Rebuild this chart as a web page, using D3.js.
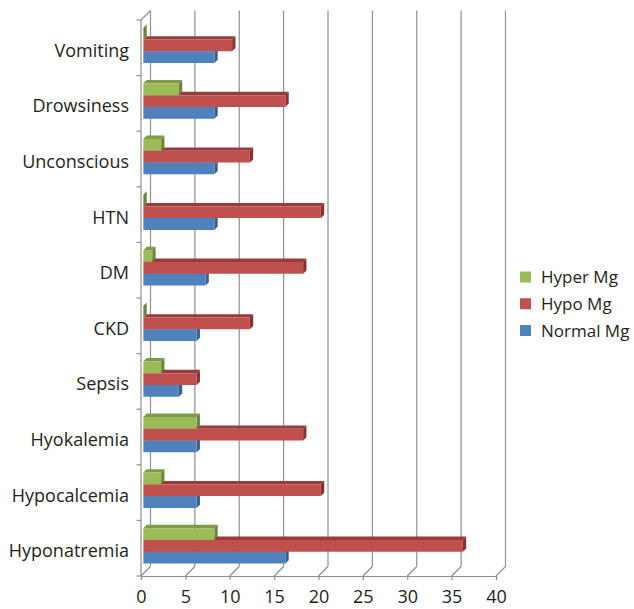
<!DOCTYPE html>
<html>
<head>
<meta charset="utf-8">
<script src="https://cdn.jsdelivr.net/npm/d3@7"></script>
<style>
  html, body { margin: 0; padding: 0; background: #fff; }
  svg { display: block; }
  text { font-family: "Open Sans", "Noto Sans", sans-serif; fill: #231f20; }
</style>
</head>
<body>
<svg id="chart" width="634" height="609"></svg>
<script>
// Complications by magnesium status
const categories = ["Vomiting", "Drowsiness", "Unconscious", "HTN", "DM", "CKD",
                    "Sepsis", "Hyokalemia", "Hypocalcemia", "Hyponatremia"];
const seriesNames = ["Hyper Mg", "Hypo Mg", "Normal Mg"];
const hyperMg  = [0, 4, 2, 0, 1, 0, 2, 6, 2, 8];
const hypoMg   = [10, 16, 12, 20, 18, 12, 6, 18, 20, 36];
const normalMg = [8, 8, 8, 8, 7, 6, 4, 6, 6, 16];
const xTicks = [0, 5, 10, 15, 20, 25, 30, 35, 40];

const seriesValues = [hyperMg, hypoMg, normalMg];
const palette = {
  "Hyper Mg":  { front: "#9bbb59", top: "#7e9b46", side: "#6a863a" },
  "Hypo Mg":   { front: "#c0504d", top: "#973c3a", side: "#88322f" },
  "Normal Mg": { front: "#4f81bd", top: "#3e6a9e", side: "#385f8f" }
};

const svg = d3.select("#chart");
const W = 634, H = 609;
svg.append("rect").attr("width", W).attr("height", H).attr("fill", "#fff");

// front plane geometry
const x = d3.scaleLinear().domain([0, 40]).range([141, 496]);
const y = d3.scaleBand().domain(categories).range([20, 576]);
const ys = d3.scaleBand().domain(seriesNames).range([0, y.bandwidth()])
  .paddingInner(0).paddingOuter(0.856);

// oblique depth projection (z = 0 front, z = 1 back wall)
const DEPTH = 9.5;
const proj = (px, py, z) => [px + z * DEPTH, py - z * DEPTH];
const poly = pts => "M" + pts.map(p => p.join(",")).join("L") + "Z";

const gridColor = "#8f8f8f";
const grid = svg.append("g").attr("stroke", gridColor).attr("stroke-width", 1.2).attr("fill", "none");

// back wall vertical gridlines and floor diagonals
xTicks.forEach(t => {
  const topB = proj(x(t), y.range()[0], 1);
  const botB = proj(x(t), y.range()[1], 1);
  grid.append("line").attr("x1", topB[0]).attr("y1", topB[1]).attr("x2", botB[0]).attr("y2", botB[1]);
  grid.append("line").attr("x1", x(t)).attr("y1", y.range()[1]).attr("x2", botB[0]).attr("y2", botB[1]);
});

// left wall: front edge and top diagonal
const leftTopB = proj(x(0), y.range()[0], 1);
grid.append("line").attr("x1", x(0)).attr("y1", y.range()[0]).attr("x2", x(0)).attr("y2", y.range()[1]);
grid.append("line").attr("x1", x(0)).attr("y1", y.range()[0]).attr("x2", leftTopB[0]).attr("y2", leftTopB[1]);

// category boundary ticks on the left axis
const boundaries = categories.map(c => y(c)).concat([y.range()[1]]);
boundaries.forEach(b => {
  grid.append("line").attr("x1", x(0) - 4.5).attr("y1", b).attr("x2", x(0)).attr("y2", b);
});

// bottom value axis
const xAxis = d3.axisBottom(x).tickValues(xTicks).tickSize(4).tickPadding(8).tickFormat(d3.format("d"));
const gx = svg.append("g").attr("transform", `translate(0,${y.range()[1]})`).call(xAxis);
gx.select(".domain").attr("stroke", gridColor).attr("stroke-width", 1.2);
gx.selectAll(".tick line").attr("stroke", gridColor).attr("stroke-width", 1.2);
gx.selectAll(".tick text").attr("font-size", 18).attr("fill", "#231f20")
  .attr("dy", null).attr("y", 27);

// 3D bars
const Z0 = 0.25, Z1 = 0.6;
const bars = svg.append("g");
categories.forEach((cat, ci) => {
  // draw lower bars first so the bar above covers their top faces
  for (let si = seriesNames.length - 1; si >= 0; si--) {
    const s = seriesNames[si];
    const v = seriesValues[si][ci];
    const col = palette[s];
    const yt = y(cat) + ys(s), yb = yt + ys.bandwidth();
    const x0 = x(0), x1 = x(v);
    const A = proj(x0, yt, Z0), B = proj(x1, yt, Z0), C = proj(x1, yb, Z0), D = proj(x0, yb, Z0);
    const A2 = proj(x0, yt, Z1), B2 = proj(x1, yt, Z1), C2 = proj(x1, yb, Z1);
    const g = bars.append("g").attr("class", "bar");
    g.append("path").attr("d", poly([A, B, B2, A2])).attr("fill", col.top);
    g.append("path").attr("d", poly([B, C, C2, B2])).attr("fill", col.side);
    if (v > 0) g.append("path").attr("d", poly([A, B, C, D])).attr("fill", col.front);
  }
});

// category labels
const yAxis = d3.axisLeft(y).tickSize(0).tickPadding(0);
const gy = svg.append("g").attr("transform", "translate(129,0)").call(yAxis);
gy.select(".domain").remove();
gy.selectAll(".tick text").attr("font-size", 18).attr("fill", "#231f20")
  .attr("x", 0).attr("dy", "0.42em").attr("y", 1.5);

// legend
const legend = svg.append("g").attr("transform", "translate(520,277)");
seriesNames.forEach((s, i) => {
  const row = legend.append("g").attr("transform", `translate(0,${i * 26.75})`);
  row.append("rect").attr("x", 0).attr("y", -5.5).attr("width", 11).attr("height", 11)
    .attr("fill", palette[s].front);
  row.append("text").attr("x", 21).attr("y", 6).attr("font-size", 17).text(s);
});
</script>
</body>
</html>
